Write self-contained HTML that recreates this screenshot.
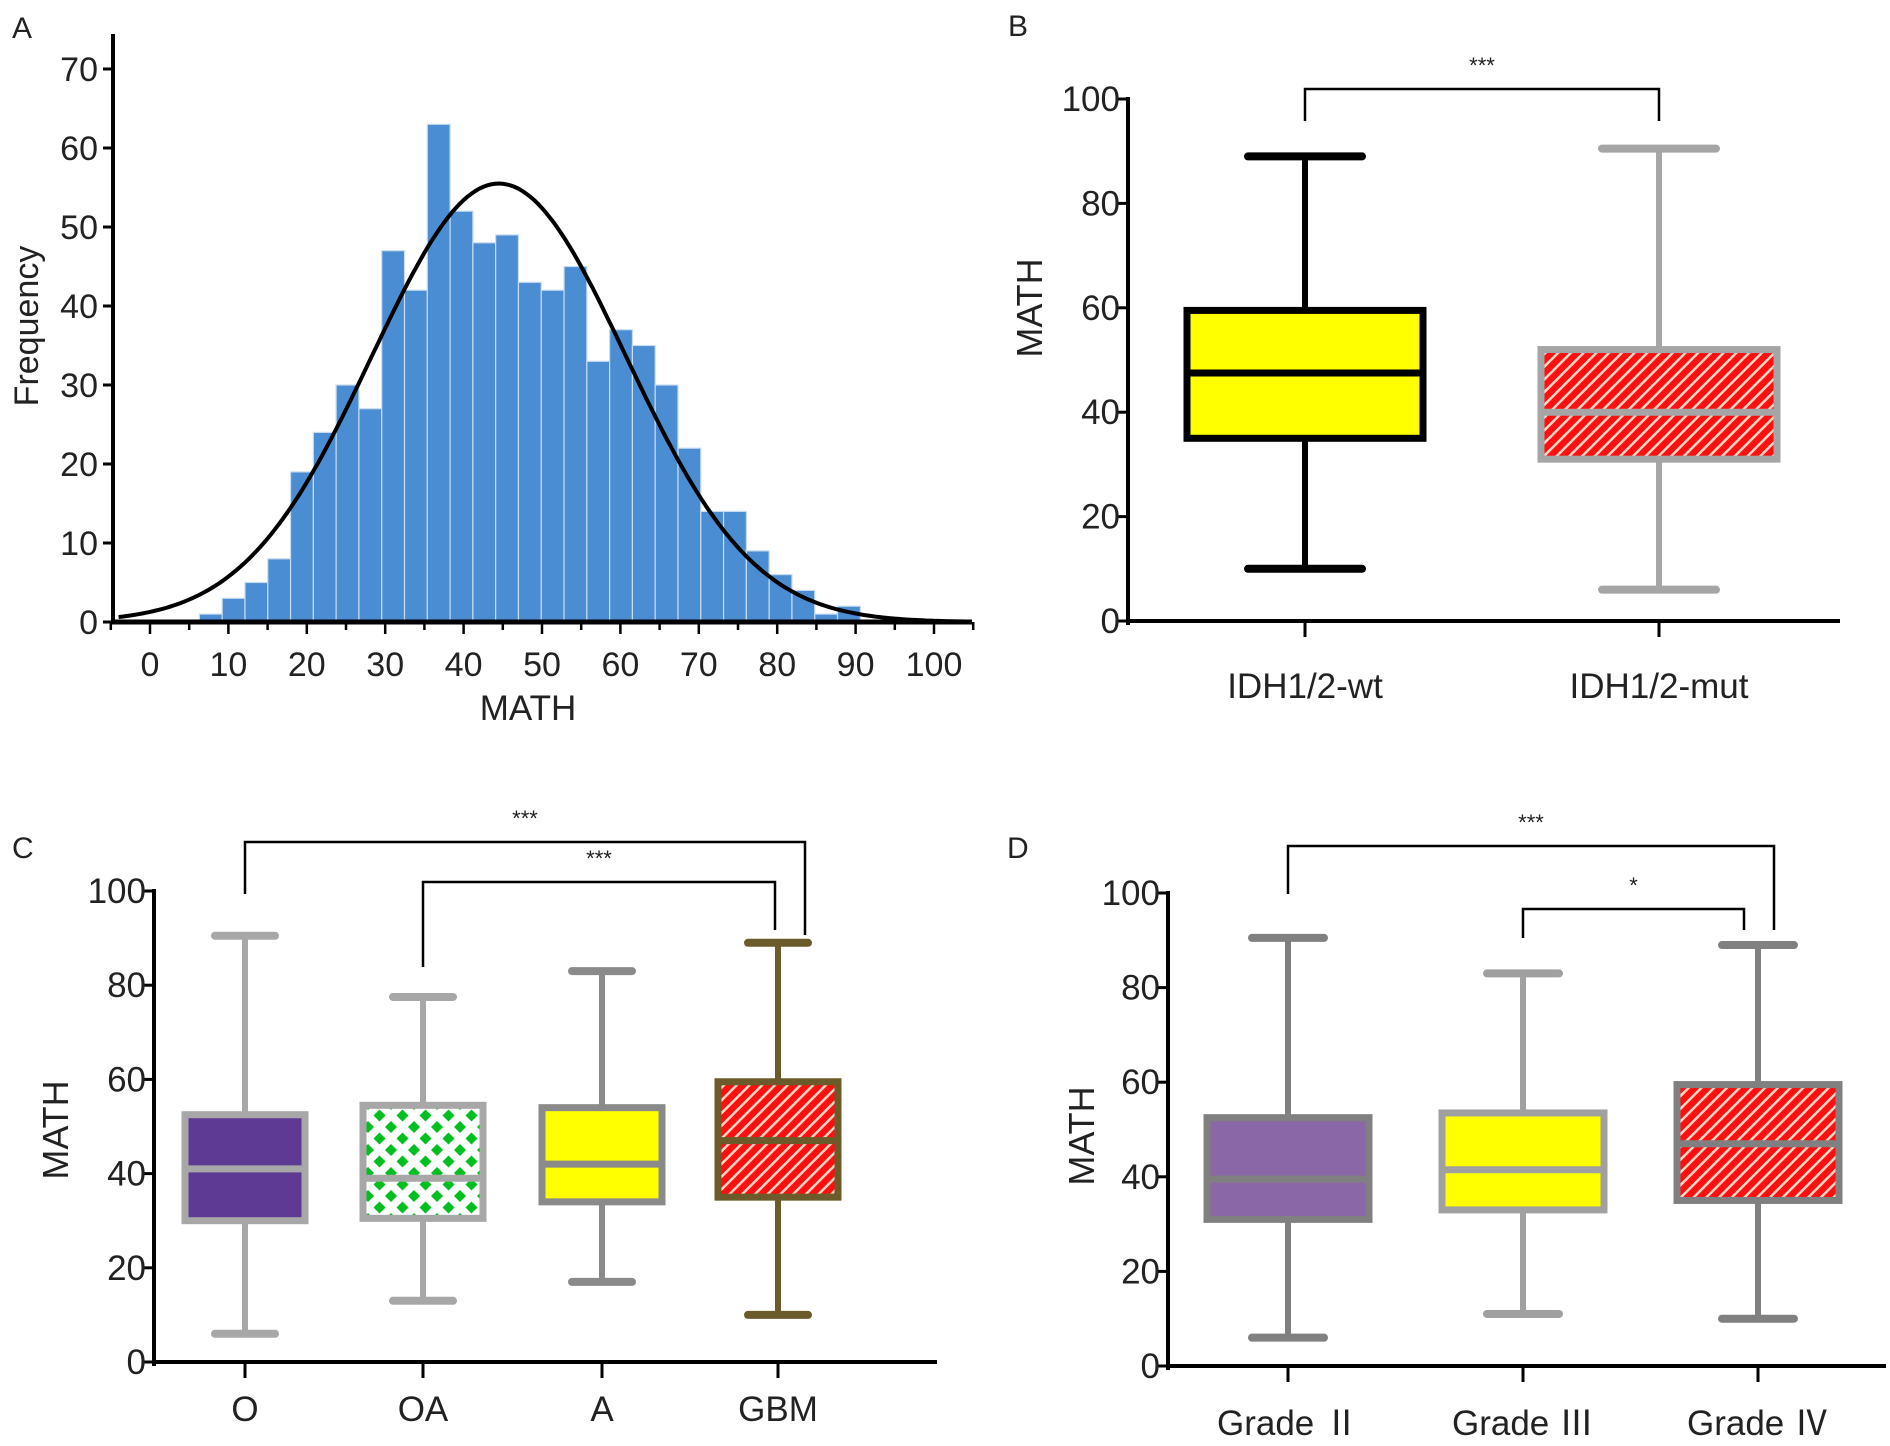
<!DOCTYPE html>
<html><head><meta charset="utf-8"><style>
html,body{margin:0;padding:0;background:#fff;}
svg{display:block;font-family:"Liberation Sans","Noto Sans CJK SC",Arial,sans-serif;}
</style></head><body>
<svg id="fig" width="1890" height="1446" viewBox="0 0 1890 1446" xmlns="http://www.w3.org/2000/svg">
<defs>
<pattern id="hatch" patternUnits="userSpaceOnUse" width="9" height="9" patternTransform="rotate(45)">
<rect width="9" height="9" fill="#ff1010"/><rect x="0" y="0" width="2.5" height="9" fill="#ffd8c8"/>
</pattern>
<pattern id="dots" patternUnits="userSpaceOnUse" width="23" height="23">
<rect width="23" height="23" fill="#fff"/>
<polygon points="0,-6 6,0 0,6 -6,0" fill="#00c020"/>
<polygon points="23,-6 29,0 23,6 17,0" fill="#00c020"/>
<polygon points="0,17 6,23 0,29 -6,23" fill="#00c020"/>
<polygon points="23,17 29,23 23,29 17,23" fill="#00c020"/>
<polygon points="11.5,5.5 17.5,11.5 11.5,17.5 5.5,11.5" fill="#00c020"/>
</pattern>
</defs>
<g id="pa"></g>
<g id="pb"></g>
<g id="pc"></g>
<g id="pd"></g>
</svg>
<script>
// Panel A data
const histStart = 6.3;
const histBinWidth = 2.907;
const histCounts = [1,3,5,8,19,24,30,27,47,42,63,52,48,49,43,42,45,33,37,35,30,22,14,14,9,6,4,1,2];
const xTicksA = [0,10,20,30,40,50,60,70,80,90,100];
const yTicksA = [0,10,20,30,40,50,60,70];
const fitMean = 44.5, fitSd = 16.2, fitPeak = 55.5;
// Panel B data
const catsB = ["IDH1/2-wt","IDH1/2-mut"];
const minB = [10,6], q1B = [35,31], medB = [47.5,40], q3B = [59.5,52], maxB = [89,90.5];
// Panel C data
const catsC = ["O","OA","A","GBM"];
const minC = [6,13,17,10], q1C = [30,30.5,34,35], medC = [41,39,42,47], q3C = [52.5,54.5,54,59.5], maxC = [90.5,77.5,83,89];
// Panel D data
const catsD = ["Grade  \u2161","Grade  \u2162","Grade  \u2163"];
const minD = [6,11,10], q1D = [31,33,35], medD = [39.5,41.5,47], q3D = [52.5,53.5,59.5], maxD = [90.5,83,89];
const yTicksBox = [0,20,40,60,80,100];

const NS="http://www.w3.org/2000/svg";
function mk(parent,tag,attrs,text){const e=document.createElementNS(NS,tag);for(const k in attrs)e.setAttribute(k,attrs[k]);if(text!==undefined)e.textContent=text;parent.appendChild(e);return e;}

// ---- Panel A
(function(){
const g=document.getElementById('pa');
const X=v=>150+v*7.84, Y=v=>622-v*7.9;
let t=mk(g,'text',{x:12,y:38,'font-size':30,fill:'#222'},'A');


histCounts.forEach((c,i)=>{
 const x0=X(histStart+i*histBinWidth), x1=X(histStart+(i+1)*histBinWidth);
 const r=mk(g,'rect',{x:x0,y:Y(c),width:x1-x0,height:Y(0)-Y(c),fill:'#4a8dd2',stroke:'#c8dcf0','stroke-width':1.2});
 
 
});
let d='';
for(let v=-4;v<=104;v+=0.5){const y=fitPeak*Math.exp(-Math.pow(v-fitMean,2)/(2*fitSd*fitSd));d+=(d?'L':'M')+X(v).toFixed(1)+','+Y(y).toFixed(1);}
const p=mk(g,'path',{d:d,fill:'none',stroke:'#000','stroke-width':4});


const ax=mk(g,'g',{});


mk(ax,'line',{x1:113,y1:34,x2:113,y2:624,stroke:'#000','stroke-width':4});
yTicksA.forEach(v=>{mk(ax,'line',{x1:103,y1:Y(v),x2:113,y2:Y(v),stroke:'#000','stroke-width':3});
 const l=mk(ax,'text',{x:98,y:Y(v)+12,'font-size':34,'text-anchor':'end',fill:'#222'},v);
 
 });
const bx=mk(g,'g',{});


mk(bx,'line',{x1:111,y1:622,x2:972,y2:622,stroke:'#000','stroke-width':5});
for(let v=-5;v<=105;v+=5){mk(bx,'line',{x1:X(v),y1:622,x2:X(v),y2:(v%10===0?634:630),stroke:'#000','stroke-width':2.5});}
xTicksA.forEach(v=>{const l=mk(bx,'text',{x:X(v),y:676,'font-size':34,'text-anchor':'middle',fill:'#222'},v);
 
 });
t=mk(g,'text',{x:528,y:720,'font-size':35,'text-anchor':'middle',fill:'#222'},'MATH');


t=mk(g,'text',{x:0,y:0,'font-size':34,'text-anchor':'middle',fill:'#222',transform:'translate(38,326) rotate(-90)'},'Frequency');


})();

// ---- Box panels
function boxPanel(gid,cfg){
 const g=document.getElementById(gid);
 const Y=v=>cfg.y0-(cfg.y0-cfg.y100)*v/100;
 let t=mk(g,'text',{x:cfg.lx,y:cfg.ly,'font-size':30,fill:'#222'},cfg.letter);
 
 
 cfg.cats.forEach((c,i)=>{
  const cx=cfg.cx[i], hw=cfg.hw, cw=cfg.cw, st=cfg.stroke[i];
  const bg=mk(g,'g',{});
  
  
  mk(bg,'line',{x1:cx,y1:Y(cfg.max[i]),x2:cx,y2:Y(cfg.q3[i]),stroke:st,'stroke-width':cfg.sw});
  mk(bg,'line',{x1:cx,y1:Y(cfg.q1[i]),x2:cx,y2:Y(cfg.min[i]),stroke:st,'stroke-width':cfg.sw});
  mk(bg,'line',{x1:cx-cw,y1:Y(cfg.max[i]),x2:cx+cw,y2:Y(cfg.max[i]),stroke:st,'stroke-width':cfg.sw+2,'stroke-linecap':'round'});
  mk(bg,'line',{x1:cx-cw,y1:Y(cfg.min[i]),x2:cx+cw,y2:Y(cfg.min[i]),stroke:st,'stroke-width':cfg.sw+2,'stroke-linecap':'round'});
  mk(bg,'rect',{x:cx-hw,y:Y(cfg.q3[i]),width:2*hw,height:Y(cfg.q1[i])-Y(cfg.q3[i]),fill:cfg.fill[i],stroke:st,'stroke-width':cfg.sw+1});
  mk(bg,'line',{x1:cx-hw,y1:Y(cfg.med[i]),x2:cx+hw,y2:Y(cfg.med[i]),stroke:st,'stroke-width':cfg.sw+1});
  const l=mk(g,'text',{x:cx,y:cfg.labY,'font-size':35,'text-anchor':'middle',fill:'#222','xml:space':'preserve'},c);
  
  
 });
 const ax=mk(g,'g',{});
 
 
 mk(ax,'line',{x1:cfg.ax,y1:cfg.y100-2,x2:cfg.ax,y2:cfg.y0+4,stroke:'#000','stroke-width':4});
 yTicksBox.forEach(v=>{mk(ax,'line',{x1:cfg.ax-12,y1:Y(v),x2:cfg.ax,y2:Y(v),stroke:'#000','stroke-width':3});
  const l=mk(ax,'text',{x:cfg.ax-8,y:Y(v)+12,'font-size':35,'text-anchor':'end',fill:'#222'},v);
  
  });
 const bx=mk(g,'g',{});
 
 
 mk(bx,'line',{x1:cfg.ax-2,y1:cfg.y0,x2:cfg.axEnd,y2:cfg.y0,stroke:'#000','stroke-width':4});
 cfg.cx.forEach(cx=>mk(bx,'line',{x1:cx,y1:cfg.y0,x2:cx,y2:cfg.y0+16,stroke:'#000','stroke-width':3}));
 t=mk(g,'text',{x:0,y:0,'font-size':36,'text-anchor':'middle',fill:'#222',transform:'translate('+cfg.tx+','+cfg.ty+') rotate(-90)'},'MATH');
 
 
 cfg.brackets.forEach(b=>{
  const bg=mk(g,'g',{});
  
  
  mk(bg,'polyline',{points:b.x1+','+b.l1+' '+b.x1+','+b.y+' '+b.x2+','+b.y+' '+b.x2+','+b.l2,fill:'none',stroke:'#000','stroke-width':2.5});
  mk(bg,'text',{x:(b.x1+b.x2)/2,y:b.y-16,'font-size':22,'text-anchor':'middle',fill:'#222'},b.s);
 });
}
boxPanel('pb',{letter:'B',lx:1008,ly:36,cats:catsB,cx:[1305,1659],hw:118,cw:57,sw:6,
 min:minB,q1:q1B,med:medB,q3:q3B,max:maxB,fill:['#ffff00','url(#hatch)'],stroke:['#000','#a5a5a5'],
 y0:621,y100:99,ax:1128,axEnd:1840,labY:698,tx:1042,ty:308,
 brackets:[{x1:1305,x2:1659,y:89,l1:121,l2:121,s:'***'}]});
boxPanel('pc',{letter:'C',lx:12,ly:858,cats:catsC,cx:[245,423,602,778],hw:60,cw:30,sw:6,
 min:minC,q1:q1C,med:medC,q3:q3C,max:maxC,fill:['#5f3a94','url(#dots)','#ffff00','url(#hatch)'],stroke:['#a7a7a7','#a7a7a7','#8a8a8a','#6b5a2a'],
 y0:1362,y100:891,ax:154,axEnd:937,labY:1421,tx:68,ty:1130,
 brackets:[{x1:245,x2:805,y:842,l1:894,l2:935,s:'***'},{x1:423,x2:775,y:882,l1:967,l2:930,s:'***'}]});
boxPanel('pd',{letter:'D',lx:1007,ly:858,cats:catsD,cx:[1288,1523,1758],hw:81,cw:36,sw:6,
 min:minD,q1:q1D,med:medD,q3:q3D,max:maxD,fill:['#8a68a8','#ffff00','url(#hatch)'],stroke:['#808080','#a0a0a0','#808080'],
 y0:1366,y100:893,ax:1168,axEnd:1886,labY:1435,tx:1094,ty:1136,
 brackets:[{x1:1288,x2:1774,y:846,l1:894,l2:930,s:'***'},{x1:1523,x2:1744,y:909,l1:938,l2:930,s:'*'}]});
</script>
</body></html>
